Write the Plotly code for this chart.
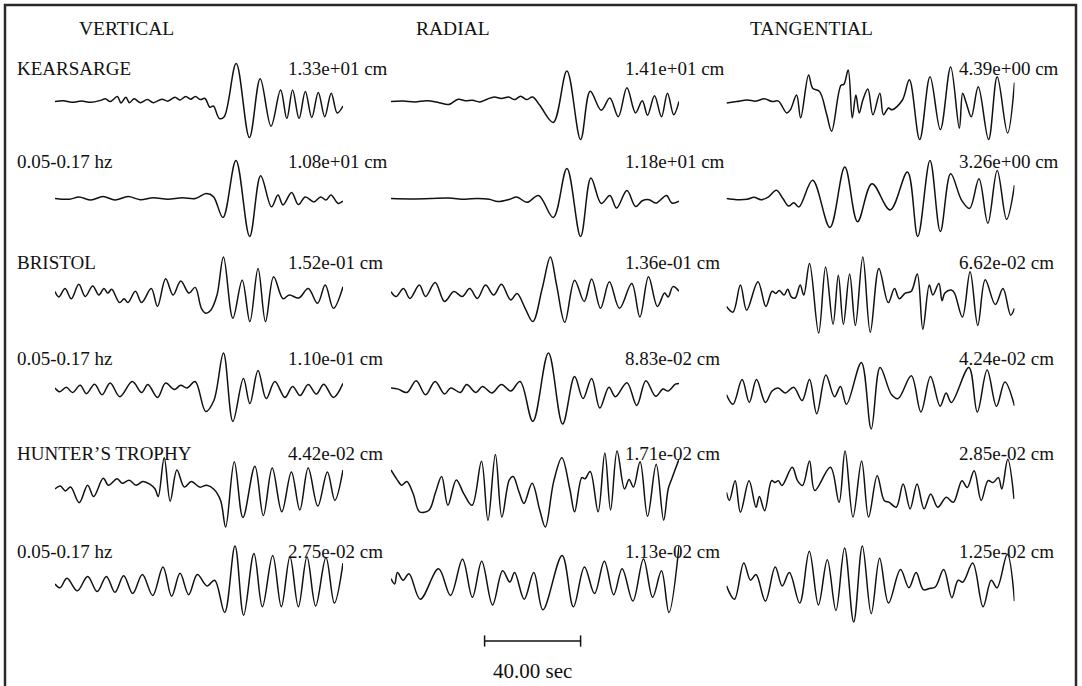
import plotly.graph_objects as go

# ---------------------------------------------------------------------------
# Data: three-component displacement seismograms (0-120 s windows), each
# trace given as (time in s, displacement relative to its peak) knots.
# Peak displacement of every trace is listed in PEAK_CM (cm).
# ---------------------------------------------------------------------------
COMPONENTS = ["VERTICAL", "RADIAL", "TANGENTIAL"]
ROW_LABELS = ["KEARSARGE", "0.05-0.17 hz", "BRISTOL", "0.05-0.17 hz",
              "HUNTER\u2019S TROPHY", "0.05-0.17 hz"]
PEAK_CM = [
    [1.33e+01, 1.41e+01, 4.39e+00],
    [1.08e+01, 1.18e+01, 3.26e+00],
    [1.52e-01, 1.36e-01, 6.62e-02],
    [1.10e-01, 8.83e-02, 4.24e-02],
    [4.42e-02, 1.71e-02, 2.85e-02],
    [2.75e-02, 1.13e-02, 1.25e-02],
]
SCALE_BAR_START_S = 39.0
SCALE_BAR_LEN_S = 40.0

KEARSARGE_Z = [(0, 0.0), (3.5, 0.02), (7, -0.02), (11, 0.01), (15, -0.02), (19, 0.03), (21, 0.07), (23, 0.0),
               (26, 0.13), (27.5, -0.04), (29.5, 0.11), (31, -0.03), (33, 0.07), (35.5, -0.03), (38.5, 0.05),
               (41, -0.03), (44.5, 0.06), (47, 0.01), (50, 0.11), (52, 0.04), (54.5, 0.13), (56.5, 0.06),
               (58.5, 0.13), (60.5, 0.05), (62.5, 0.08), (64.5, -0.15), (66, -0.12), (68.5, -0.45), (70.5, -0.4),
               (75.5, 1.0), (81, -0.95), (85.5, 0.6), (90, -0.65), (94, 0.3), (96.6, -0.45), (99, 0.3),
               (101.7, -0.45), (104.3, 0.26), (107, -0.42), (109.7, 0.24), (112.4, -0.4), (115.1, 0.22),
               (117.6, -0.3), (120, -0.12)]
KEARSARGE_R = [(0, 0.0), (5, 0.01), (10, -0.01), (15, 0.02), (20, -0.03), (24, -0.08), (28, 0.06), (31, 0.02),
               (34, 0.03), (37, -0.01), (40, 0.06), (43, 0.12), (46, 0.08), (49, 0.12), (51.5, 0.05), (54, 0.14),
               (56.5, 0.05), (59, 0.12), (62, -0.1), (67.6, -0.55), (73.3, 0.8), (79, -1.0), (83, 0.27),
               (87.6, -0.23), (91.2, 0.09), (94.7, -0.4), (98.3, 0.36), (101.9, -0.3), (104.7, 0.02),
               (106.9, -0.36), (109.8, 0.15), (112.7, -0.4), (115.2, 0.22), (117.8, -0.35), (120, 0.0)]
KEARSARGE_T = [(0, -0.04), (4.3, 0.0), (8.6, 0.04), (12.2, 0.01), (15.8, 0.07), (19, 0.0), (21.6, 0.01),
               (25.1, -0.3), (26.6, -0.22), (29.2, 0.17), (30.9, -0.43), (34.2, 0.7), (35.9, 0.35), (38.8, 0.26),
               (41.7, -0.33), (43.8, -0.78), (47.7, 0.43), (48.9, 0.45), (50.7, 0.83), (52.4, -0.43),
               (53.9, 0.17), (55.3, -0.3), (56.8, 0.04), (58.9, 0.33), (61, -0.35), (63.9, 0.22), (65.4, -0.35),
               (67.5, -0.17), (69, -0.22), (73.3, 0.04), (76.2, 0.57), (80.5, -1.0), (84.8, 0.65), (89.1, -0.74),
               (93.4, 0.91), (97, -0.7), (98.4, 0.22), (99.9, -0.04), (102, -0.4), (104.9, 0.39), (109.2, -1.0),
               (112.8, 0.65), (117.1, -0.83), (120, 0.5)]

KEARSARGE_F_Z = [(0, 0.0), (6, -0.02), (10, 0.04), (15, -0.04), (20, 0.05), (25, -0.04), (30.5, 0.05),
                 (35.5, -0.03), (41, 0.02), (47, -0.02), (53, 0.02), (58.5, 0.0), (63, 0.13), (66, 0.05),
                 (70, -0.5), (75.4, 1.0), (81.1, -1.0), (85.7, 0.6), (90.2, -0.22), (92.9, 0.09), (95, -0.17),
                 (98.6, 0.16), (101.4, -0.16), (104.3, 0.04), (107.9, -0.09), (110.7, 0.04), (112.9, -0.04),
                 (115, 0.09), (118, -0.13), (120, -0.07)]
KEARSARGE_F_R = [(0, 0.0), (8, -0.01), (16.6, 0.0), (24, 0.01), (30.9, -0.02), (36, 0.0), (40.9, -0.02),
                 (44.5, -0.08), (49.5, -0.02), (52.4, 0.04), (56.7, -0.1), (61.5, 0.08), (67.6, -0.5),
                 (73.3, 0.79), (79, -1.0), (83.3, 0.54), (87.6, -0.13), (91.2, 0.08), (94, -0.25), (98.3, 0.21),
                 (101.9, -0.21), (104.7, -0.06), (107.5, -0.03), (110.5, -0.12), (114.8, 0.08), (117, -0.12),
                 (120, -0.07)]
KEARSARGE_F_T = [(0, 0.0), (4.3, -0.03), (8.6, -0.02), (11.5, 0.03), (14.4, -0.03), (17.2, 0.03), (20.8, 0.22),
                 (23.5, 0.0), (25.9, -0.2), (28, -0.11), (30.2, -0.22), (35.9, 0.48), (43.1, -0.76), (49.3, 0.83),
                 (54.6, -0.61), (60.6, 0.39), (68.2, -0.3), (75.4, 0.7), (79.7, -1.0), (84.8, 1.0), (89.1, -0.87),
                 (93.4, 0.65), (98, -0.05), (101.3, -0.26), (105.2, 0.52), (108.9, -0.65), (112.8, 0.74),
                 (116.7, -0.55), (120, 0.35)]

BRISTOL_Z = [(0, 0.09), (1.6, -0.05), (4.2, 0.17), (6.8, -0.1), (9.9, 0.28), (12.6, -0.04), (15.7, 0.24),
             (18.3, 0.0), (20.4, 0.17), (22, 0.05), (23.6, 0.15), (26.9, -0.2), (28.8, -0.1), (30.4, -0.2),
             (33.5, 0.1), (36.1, -0.2), (40.1, 0.17), (42.7, -0.3), (46.1, 0.43), (49.2, 0.0), (52.4, 0.37),
             (55.8, 0.05), (58.4, 0.2), (61, -0.35), (62.8, -0.48), (64.9, -0.4), (67.5, 0.0), (70.2, 1.0),
             (74.1, -0.61), (78, 0.39), (81.2, -0.7), (84.6, 0.7), (87.7, -0.7), (91.1, 0.48), (95, -0.1),
             (97.6, 0.0), (101.6, -0.08), (105.5, 0.17), (109.4, -0.22), (112.6, 0.26), (116, -0.35), (120, 0.22)]
BRISTOL_R = [(0, 0.09), (2.1, -0.04), (5.2, 0.17), (7.9, -0.09), (11.8, 0.26), (14.4, -0.04), (18.4, 0.33),
             (22.3, -0.17), (26.2, 0.09), (29.7, -0.04), (32.8, 0.17), (36, -0.09), (39.4, 0.26), (42.8, 0.0),
             (46, 0.28), (49.9, -0.13), (52.5, 0.04), (55.9, -0.35), (59.1, -0.7), (63, 0.17), (66.4, 1.0),
             (69, 0.26), (72.4, -0.72), (76.5, 0.39), (80.5, -0.17), (83.6, 0.42), (87.3, -0.35), (91, 0.35),
             (95.2, -0.35), (100.3, 0.3), (103.7, -0.58), (107.3, 0.48), (111, -0.3), (114, 0.05),
             (115.5, -0.05), (117.5, 0.22), (120, 0.1)]
BRISTOL_T = [(0, -0.3), (2.7, -0.45), (5.8, 0.26), (8.4, -0.4), (13.1, 0.35), (16.4, -0.3), (19, 0.1),
             (20.5, 0.04), (22, 0.12), (24, 0.0), (25.5, 0.15), (27, -0.05), (28.6, -0.08), (30.7, 0.26),
             (32.2, 0.0), (34.6, 0.83), (38.4, -1.0), (41.3, 0.74), (44.4, -0.77), (46.6, 0.52), (48.7, -0.77),
             (51.3, 0.55), (53.7, -0.8), (56.8, 1.0), (59.9, -0.98), (63.5, 0.7), (67.4, -0.2), (70, 0.17),
             (72, -0.1), (74.5, 0.05), (77, 0.1), (79.5, 0.55), (81.8, -0.9), (84.5, 0.26), (86, 0.0),
             (88.5, 0.3), (89.8, -0.15), (91, 0.05), (93.7, 0.13), (95, 0.05), (98.3, -0.58), (101.5, 0.61),
             (104.7, -0.8), (107.8, 0.4), (112, -0.25), (115.2, 0.17), (118.4, -0.53), (120, -0.35)]

BRISTOL_F_Z = [(0, 0.08), (2, -0.02), (4.7, 0.1), (7.3, -0.04), (10.5, 0.15), (13.1, -0.07), (16.5, 0.18),
               (19.6, -0.1), (23, 0.21), (27, -0.15), (32.2, 0.25), (36.1, -0.04), (38.7, 0.17), (42.7, -0.17),
               (46.1, 0.21), (49.7, 0.04), (52.4, 0.15), (55, 0.08), (58.4, 0.25), (62.8, -0.54), (66.2, -0.25),
               (70.2, 1.0), (74.1, -0.8), (78.5, 0.33), (81.2, -0.33), (84.6, 0.54), (88, -0.2), (91.6, 0.25),
               (95.8, -0.17), (99, 0.12), (102.1, -0.12), (105.5, 0.17), (108.9, -0.08), (112, 0.18),
               (116, -0.17), (120, 0.2)]
BRISTOL_F_R = [(0, 0.08), (3, 0.05), (6.6, -0.04), (10.5, 0.27), (14.4, -0.1), (18.4, 0.25), (22.3, -0.08),
               (24.9, 0.08), (28.9, -0.04), (31.5, 0.17), (35.4, -0.04), (38.1, 0.12), (42, -0.05), (46, 0.17),
               (49.9, 0.0), (53.8, 0.25), (59.1, -0.8), (65.6, 1.0), (71.5, -0.87), (76.5, 0.38), (80, -0.2),
               (83.6, 0.33), (87, -0.45), (90.8, 0.1), (93.5, -0.15), (98.3, 0.22), (102.4, -0.38),
               (106.2, 0.27), (110.3, -0.14), (113.3, 0.05), (115.5, 0.0), (118.5, 0.18), (120, 0.2)]
BRISTOL_F_T = [(0, -0.1), (2.7, -0.35), (6.5, 0.3), (9.5, -0.3), (12.5, 0.3), (16.2, -0.3), (19, 0.0),
               (21.5, 0.08), (24.5, -0.05), (28, 0.1), (31.5, -0.25), (34.6, 0.3), (37.6, -0.6), (41.4, 0.42),
               (45, -0.15), (47.5, 0.12), (50, -0.35), (56.2, 0.75), (60.3, -1.0), (64, 0.62), (68.8, -0.1),
               (71.5, -0.2), (77, 0.4), (81, -0.55), (85, 0.38), (89, -0.4), (91.5, -0.05), (93.7, -0.3),
               (101, 0.62), (104.5, -0.55), (108.6, 0.55), (112.5, -0.4), (116, 0.24), (120, -0.39)]

HUNTERS_Z = [(0, 0.0), (2.2, 0.08), (4.3, -0.05), (6.5, 0.05), (10.1, -0.36), (13.6, 0.1), (16.1, -0.2),
             (20.1, 0.28), (22.3, 0.1), (25.9, 0.27), (28, 0.15), (30.9, 0.23), (33.8, 0.1), (36.6, 0.2),
             (39.5, 0.13), (41.7, 0.0), (43, -0.2), (45.5, 0.82), (48, -0.32), (50.8, 0.5), (53.9, 0.05),
             (56.8, 0.2), (60.3, 0.05), (63.2, 0.1), (66.1, 0.0), (69, -0.3), (71.1, -1.0), (74.7, 0.72),
             (78.3, -0.75), (83.3, 0.6), (86.8, -0.7), (90.5, 0.55), (94.5, -0.6), (98.5, 0.45), (102, -0.55),
             (105.5, 0.55), (109.5, -0.45), (113.5, 0.45), (116.6, -0.3), (120, 0.5)]
HUNTERS_R = [(0, 0.5), (2.6, 0.24), (4.5, 0.1), (6.6, 0.2), (9.2, -0.12), (11.9, -0.6), (15.8, -0.56),
             (18.5, -0.1), (21.1, 0.33), (23.7, -0.43), (27.2, 0.24), (30.3, -0.12), (33.8, -0.43), (37.7, 0.73),
             (40.4, -0.83), (43.5, 0.91), (46.2, -0.74), (49.3, 0.24), (50.9, 0.33), (53.3, -0.07),
             (55.4, -0.38), (58.8, 0.15), (62, -0.56), (64.3, -1.0), (67.8, 0.2), (71.2, 0.82), (74.5, 0.0),
             (76.5, -0.6), (79.5, 0.3), (80.8, 0.27), (83, 0.46), (86.3, -0.6), (89.1, 0.95), (91.5, -0.55),
             (94.2, 1.0), (97.3, 0.0), (99.2, 0.25), (101, 0.05), (103.8, 0.72), (106.9, -0.72), (110.5, 0.65),
             (113.6, -0.82), (115.5, 0.0), (117, 0.27), (120, 0.78)]
HUNTERS_T = [(0, -0.09), (1.2, -0.3), (3.6, 0.22), (5.8, -0.61), (9.4, 0.22), (12.3, -0.48), (13.7, -0.2),
             (15.9, -0.57), (18.8, 0.22), (20.2, 0.17), (21.6, 0.22), (23.1, 0.09), (27.4, 0.57), (29.6, 0.22),
             (31.7, 0.09), (34.6, 0.74), (36.8, -0.04), (43.3, 0.57), (46.9, -0.35), (49.4, 1.0), (52.7, -0.74),
             (56.3, 0.74), (59.2, -0.74), (62.8, 0.35), (65.7, -0.3), (67.8, -0.35), (70.7, -0.48), (73.6, 0.13),
             (76.5, -0.52), (79.4, 0.13), (82.3, -0.52), (85.1, -0.13), (88, -0.48), (91.6, -0.22),
             (94.5, -0.35), (98.1, 0.22), (100.3, 0.04), (103.2, 0.48), (106.1, -0.3), (109, 0.22),
             (111.1, 0.17), (113.3, 0.3), (114.7, 0.0), (117.2, 0.78), (119.8, -0.26)]

HUNTERS_F_Z = [(0, 0.0), (2.1, -0.1), (5, 0.15), (9.3, -0.18), (13.6, 0.2), (17.6, -0.2), (21.4, 0.2),
               (25, -0.22), (28.6, 0.22), (32.4, -0.25), (36.4, 0.25), (40.7, -0.3), (45, 0.45), (48.6, -0.32),
               (52.1, 0.28), (55.7, -0.28), (59.3, 0.25), (63.3, -0.05), (66.5, 0.1), (70.7, -0.75), (75, 1.0),
               (78.6, -0.82), (82.9, 0.8), (86.4, -0.6), (90.7, 0.75), (94.3, -0.6), (97.9, 0.72), (101.4, -0.6),
               (105, 0.72), (108.6, -0.58), (112.9, 0.7), (116.4, -0.5), (120, 0.55)]
HUNTERS_F_R = [(0, 0.14), (1.5, 0.0), (2.7, 0.3), (5, 0.1), (7.5, 0.27), (12.2, -0.4), (19.8, 0.4),
               (24.8, -0.3), (29.8, 0.65), (33.9, -0.35), (37.8, 0.6), (42.3, -0.55), (46.5, 0.35), (49.5, 0.05),
               (51.5, 0.3), (55.5, -0.4), (59.5, 0.3), (63.3, -0.68), (71.3, 0.75), (76, -0.6), (80.6, 0.45),
               (84.8, -0.25), (88.9, 0.6), (92.8, -0.28), (96.3, 0.4), (100.8, -0.45), (105.2, 0.66),
               (109, -0.35), (112.7, 0.35), (115.8, -0.75), (120, 1.0)]
HUNTERS_F_T = [(0, -0.05), (3.3, -0.4), (7.2, 0.55), (10, 0.1), (12.3, 0.25), (16.2, -0.45), (20.3, 0.45),
               (23.2, -0.05), (26.2, 0.3), (30.5, -0.5), (34.5, 0.86), (38.3, -0.55), (42, 0.64), (45.6, -0.7),
               (49.2, 0.95), (53, -1.0), (56.6, 1.0), (60.3, -0.78), (63.8, 0.68), (67.5, -0.5), (72.5, 0.38),
               (76, -0.1), (79, 0.3), (82, -0.15), (84.5, -0.12), (87, -0.08), (90.5, 0.38), (93.9, -0.36),
               (96.5, 0.1), (98.5, 0.05), (102.6, 0.55), (106.9, -0.6), (110.3, 0.1), (112.7, -0.1),
               (117, 0.78), (120, -0.45)]

GRID = [
    [KEARSARGE_Z, KEARSARGE_R, KEARSARGE_T],
    [KEARSARGE_F_Z, KEARSARGE_F_R, KEARSARGE_F_T],
    [BRISTOL_Z, BRISTOL_R, BRISTOL_T],
    [BRISTOL_F_Z, BRISTOL_F_R, BRISTOL_F_T],
    [HUNTERS_Z, HUNTERS_R, HUNTERS_T],
    [HUNTERS_F_Z, HUNTERS_F_R, HUNTERS_F_T],
]

# ---------------------------------------------------------------------------
# Page geometry (pixels on a 1082 x 686 page)
# ---------------------------------------------------------------------------
W, H = 1082, 686
COL_X = [(55.0, 343.0), (391.0, 679.0), (726.5, 1014.5)]   # 0-120 s span
ROW_BASE = [101.5, 198.5, 295.0, 391.0, 489.0, 584.0]       # zero line
UNIT_PX = 38.0                                             # peak deflection
HALF = 1.25                                                # y half-range in peaks
LABEL_Y = [69, 162, 262, 358, 453, 551]
AMP_X = [286, 623, 957]
HEAD_X = [126, 453, 811]
HEAD_Y = 28
BAR_Y = 641.0
BAR_TEXT_Y = 671.0
FONT = "Liberation Serif, Times New Roman, serif"
INK = "#111111"


def px_x(x):
    return x / W


def px_y(y):
    return 1.0 - y / H


fig = go.Figure()
layout = {}
k = 0
for r, row in enumerate(GRID):
    for c, knots in enumerate(row):
        k += 1
        peak = PEAK_CM[r][c]
        t = [p[0] for p in knots]
        disp = [p[1] * peak for p in knots]
        xa = "x" if k == 1 else f"x{k}"
        ya = "y" if k == 1 else f"y{k}"
        fig.add_trace(go.Scatter(
            x=t, y=disp, xaxis=xa, yaxis=ya, mode="lines",
            line=dict(color=INK, width=1.5, shape="spline", smoothing=1.0),
            hoverinfo="skip", showlegend=False))
        x0, x1 = COL_X[c]
        b = ROW_BASE[r]
        ext = HALF * UNIT_PX
        layout["xaxis" if k == 1 else f"xaxis{k}"] = dict(
            domain=[px_x(x0), px_x(x1)], range=[0, 120], visible=False,
            anchor=ya, fixedrange=True)
        layout["yaxis" if k == 1 else f"yaxis{k}"] = dict(
            domain=[px_y(b + ext), px_y(b - ext)], range=[-HALF * peak, HALF * peak],
            visible=False, anchor=xa, fixedrange=True)

# time scale bar, drawn on the radial column's time axis
k += 1
fig.add_trace(go.Scatter(
    x=[SCALE_BAR_START_S, SCALE_BAR_START_S + SCALE_BAR_LEN_S], y=[0, 0],
    xaxis=f"x{k}", yaxis=f"y{k}", mode="lines+markers",
    line=dict(color=INK, width=1.5),
    marker=dict(symbol="line-ns", size=8, line=dict(color=INK, width=1.5)),
    hoverinfo="skip", showlegend=False))
layout[f"xaxis{k}"] = dict(domain=[px_x(COL_X[1][0]), px_x(COL_X[1][1])], range=[0, 120],
                           visible=False, anchor=f"y{k}", fixedrange=True)
layout[f"yaxis{k}"] = dict(domain=[px_y(BAR_Y + 10), px_y(BAR_Y - 10)], range=[-1, 1],
                           visible=False, anchor=f"x{k}", fixedrange=True)

annotations = []
for c, name in enumerate(COMPONENTS):
    annotations.append(dict(text=name, x=px_x(HEAD_X[c]), y=px_y(HEAD_Y), xref="paper", yref="paper",
                            xanchor="center", yanchor="middle", showarrow=False,
                            font=dict(family=FONT, size=19.5, color=INK)))
for r, lab in enumerate(ROW_LABELS):
    annotations.append(dict(text=lab, x=px_x(15), y=px_y(LABEL_Y[r]), xref="paper", yref="paper",
                            xanchor="left", yanchor="middle", showarrow=False,
                            font=dict(family=FONT, size=19, color=INK)))
    for c in range(3):
        annotations.append(dict(text=f"{PEAK_CM[r][c]:.2e} cm", x=px_x(AMP_X[c]), y=px_y(LABEL_Y[r]),
                                xref="paper", yref="paper", xanchor="left", yanchor="middle",
                                showarrow=False, font=dict(family=FONT, size=19, color=INK)))
annotations.append(dict(text=f"{SCALE_BAR_LEN_S:.2f} sec",
                        x=SCALE_BAR_START_S + SCALE_BAR_LEN_S / 2, y=px_y(BAR_TEXT_Y),
                        xref=f"x{k}", yref="paper", xanchor="center", yanchor="middle",
                        showarrow=False, font=dict(family=FONT, size=21, color=INK)))

frame = dict(type="path", xref="paper", yref="paper",
             path=f"M {px_x(5)},0 L {px_x(5)},{px_y(5)} L {px_x(1076)},{px_y(5)} L {px_x(1076)},0",
             line=dict(color="#2a2a2a", width=2.5))

fig.update_layout(
    width=W, height=H, margin=dict(l=0, r=0, t=0, b=0),
    paper_bgcolor="white", plot_bgcolor="white",
    annotations=annotations, shapes=[frame], showlegend=False,
    **layout)

fig.write_html("out.html")
